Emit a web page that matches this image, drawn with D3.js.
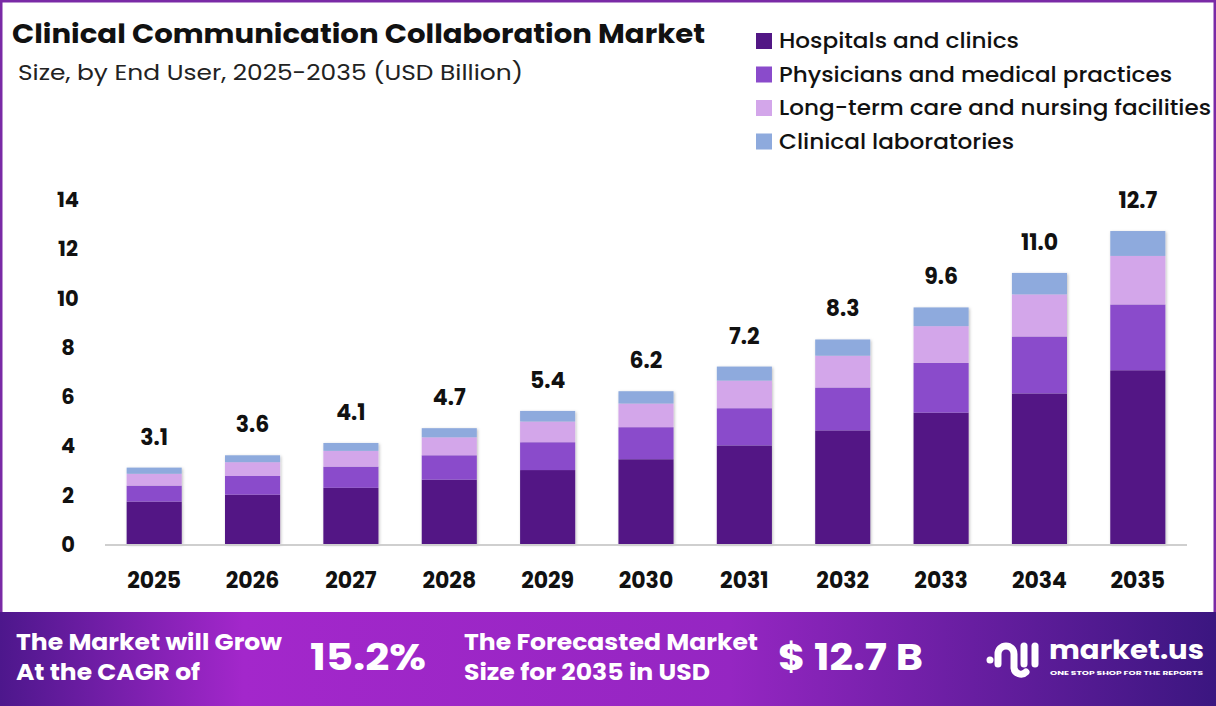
<!DOCTYPE html>
<html>
<head>
<meta charset="utf-8">
<script src="https://cdn.jsdelivr.net/npm/d3@7"></script>
<style>
  body { margin: 0; background: #fff; }
  svg { display: block; font-family: Poppins, Inter, "Open Sans", sans-serif; }
</style>
</head>
<body>
<script>
// datos
const years = ["2025", "2026", "2027", "2028", "2029", "2030", "2031", "2032", "2033", "2034", "2035"];
const hospitals = [1.72, 2.00, 2.28, 2.61, 3.00, 3.44, 4.00, 4.61, 5.33, 6.11, 7.05];
const physicians = [0.65, 0.76, 0.86, 0.99, 1.13, 1.30, 1.51, 1.74, 2.02, 2.31, 2.67];
const longTerm = [0.48, 0.56, 0.64, 0.73, 0.84, 0.96, 1.12, 1.29, 1.49, 1.71, 1.97];
const labs = [0.25, 0.28, 0.32, 0.37, 0.43, 0.50, 0.57, 0.66, 0.76, 0.87, 1.01];
const totals = ["3.1", "3.6", "4.1", "4.7", "5.4", "6.2", "7.2", "8.3", "9.6", "11.0", "12.7"];
const yTicks = [0, 2, 4, 6, 8, 10, 12, 14];
const seriesNames = ["Hospitals and clinics", "Physicians and medical practices", "Long-term care and nursing facilities", "Clinical laboratories"];
const seriesColors = ["#521785", "#8a4bcb", "#d3a6ea", "#8eaadd"];

let width = 1216;
let height = 706;

let svg = d3.select("body").append("svg")
  .attr("width", width)
  .attr("height", height);

let defs = svg.append("defs");
let grad = defs.append("linearGradient").attr("id", "banner").attr("x1", "0").attr("x2", "1").attr("y1", "0").attr("y2", "0");
grad.append("stop").attr("offset", "0%").attr("stop-color", "#4d178c");
grad.append("stop").attr("offset", "20%").attr("stop-color", "#a327cb");
grad.append("stop").attr("offset", "60%").attr("stop-color", "#9526c2");
grad.append("stop").attr("offset", "100%").attr("stop-color", "#3b1680");
let shadow = defs.append("filter").attr("id", "sombra").attr("x", "-20%").attr("y", "-20%").attr("width", "140%").attr("height", "140%");
shadow.append("feDropShadow").attr("dx", 1).attr("dy", 1).attr("stdDeviation", 1.5).attr("flood-color", "#000").attr("flood-opacity", 0.25);

// marco
svg.append("rect")
  .attr("x", 1).attr("y", 1).attr("width", width - 2).attr("height", 620)
  .attr("fill", "none").attr("stroke", "#7a2aa6").attr("stroke-width", 3);

// titulo
svg.append("text")
  .attr("x", 12).attr("y", 43)
  .attr("font-size", 26).attr("font-weight", 700).attr("fill", "#111")
  .attr("textLength", 693).attr("lengthAdjust", "spacingAndGlyphs")
  .text("Clinical Communication Collaboration Market");
svg.append("text")
  .attr("x", 18).attr("y", 80)
  .attr("font-size", 21).attr("fill", "#222")
  .attr("textLength", 505).attr("lengthAdjust", "spacingAndGlyphs")
  .text("Size, by End User, 2025-2035 (USD Billion)");

// leyenda
let legend = svg.append("g");
let legendWidths = [240, 393, 432, 235];
seriesNames.forEach((name, i) => {
  let y = 41 + i * 33.5;
  legend.append("rect")
    .attr("x", 756).attr("y", y - 8).attr("width", 16).attr("height", 16)
    .attr("fill", seriesColors[i]);
  legend.append("text")
    .attr("x", 779).attr("y", y + 7)
    .attr("font-size", 21).attr("font-weight", 500).attr("fill", "#111")
    .attr("textLength", legendWidths[i]).attr("lengthAdjust", "spacingAndGlyphs")
    .text(name);
});

// escalas
const escalaX = d3.scaleBand()
  .domain(years)
  .range([105, 1187])
  .paddingInner(0.44)
  .paddingOuter(0.22);
const escalaY = d3.scaleLinear()
  .domain([0, 14])
  .range([544, 199]);

// apilado
let tabla = years.map((y, i) => ({
  year: y,
  s0: hospitals[i],
  s1: physicians[i],
  s2: longTerm[i],
  s3: labs[i]
}));
let stack = d3.stack().keys(["s0", "s1", "s2", "s3"])(tabla);

let barras = svg.append("g").attr("filter", "url(#sombra)");
barras.selectAll("g")
  .data(stack)
  .enter()
  .append("g")
  .attr("fill", (d, i) => seriesColors[i])
  .selectAll("rect")
  .data(d => d)
  .enter()
  .append("rect")
  .attr("x", d => escalaX(d.data.year))
  .attr("width", escalaX.bandwidth())
  .attr("y", d => escalaY(d[1]))
  .attr("height", d => escalaY(d[0]) - escalaY(d[1]));

// eje x
svg.append("line")
  .attr("x1", 105).attr("x2", 1187)
  .attr("y1", escalaY(0) + 1).attr("y2", escalaY(0) + 1)
  .attr("stroke", "#cfcfcf").attr("stroke-width", 2);
let ejeX = d3.axisBottom(escalaX).tickSize(0).tickPadding(0);
let gX = svg.append("g")
  .attr("transform", "translate(0," + 588 + ")")
  .call(ejeX);
gX.select(".domain").remove();
gX.selectAll("text")
  .attr("dy", 0)
  .attr("font-family", "Poppins, Inter, sans-serif")
  .attr("font-size", 22).attr("font-weight", 700).attr("fill", "#111");

// eje y
let ejeY = d3.axisLeft(escalaY).tickValues(yTicks).tickSize(0).tickPadding(0);
let gY = svg.append("g")
  .attr("transform", "translate(68,0)")
  .call(ejeY);
gY.select(".domain").remove();
gY.selectAll("text")
  .attr("text-anchor", "middle")
  .attr("dy", "0.36em")
  .attr("font-family", "Poppins, Inter, sans-serif")
  .attr("font-size", 21).attr("font-weight", 700).attr("fill", "#111");

// totales
svg.append("g").selectAll("text")
  .data(tabla)
  .enter()
  .append("text")
  .attr("x", d => escalaX(d.year) + escalaX.bandwidth() / 2)
  .attr("y", d => escalaY(d.s0 + d.s1 + d.s2 + d.s3) - 23)
  .attr("text-anchor", "middle")
  .attr("font-size", 22).attr("font-weight", 700).attr("fill", "#111")
  .text((d, i) => totals[i]);

// banda inferior
svg.append("rect")
  .attr("x", 0).attr("y", 612).attr("width", width).attr("height", height - 612)
  .attr("fill", "url(#banner)");

let banner = svg.append("g").attr("fill", "#fff").attr("font-weight", 700);
banner.append("text").attr("x", 16).attr("y", 650).attr("font-size", 22)
  .attr("textLength", 266).attr("lengthAdjust", "spacingAndGlyphs")
  .text("The Market will Grow");
banner.append("text").attr("x", 16).attr("y", 680).attr("font-size", 22)
  .attr("textLength", 184).attr("lengthAdjust", "spacingAndGlyphs")
  .text("At the CAGR of");
banner.append("text").attr("x", 310).attr("y", 670).attr("font-size", 36)
  .attr("textLength", 116).attr("lengthAdjust", "spacingAndGlyphs")
  .text("15.2%");
banner.append("text").attr("x", 464).attr("y", 650).attr("font-size", 22)
  .attr("textLength", 294).attr("lengthAdjust", "spacingAndGlyphs")
  .text("The Forecasted Market");
banner.append("text").attr("x", 464).attr("y", 680).attr("font-size", 22)
  .attr("textLength", 246).attr("lengthAdjust", "spacingAndGlyphs")
  .text("Size for 2035 in USD");
banner.append("text").attr("x", 778).attr("y", 670).attr("font-size", 36)
  .attr("textLength", 145).attr("lengthAdjust", "spacingAndGlyphs")
  .text("$ 12.7 B");

// logo market.us
let logo = svg.append("g").attr("fill", "none").attr("stroke", "#fff").attr("stroke-linecap", "round");
logo.append("circle").attr("cx", 990).attr("cy", 660).attr("r", 3.5).attr("fill", "#fff").attr("stroke", "none");
logo.append("path").attr("d", "M998,664 L998,654 A8,8 0 0 1 1014,654 L1014,668 A7,7 0 0 0 1026,672").attr("stroke-width", 7);
logo.append("path").attr("d", "M1024,646 L1024,664").attr("stroke-width", 7);
logo.append("path").attr("d", "M1035,646 L1035,664").attr("stroke-width", 7);
svg.append("text").attr("x", 1049).attr("y", 659)
  .attr("font-size", 27).attr("font-weight", 700).attr("fill", "#fff")
  .attr("textLength", 155).attr("lengthAdjust", "spacingAndGlyphs")
  .text("market.us");
svg.append("text").attr("x", 1050).attr("y", 675)
  .attr("font-size", 5.5).attr("font-weight", 700).attr("fill", "#fff")
  .attr("textLength", 153).attr("lengthAdjust", "spacingAndGlyphs")
  .text("ONE STOP SHOP FOR THE REPORTS");
</script>
</body>
</html>
